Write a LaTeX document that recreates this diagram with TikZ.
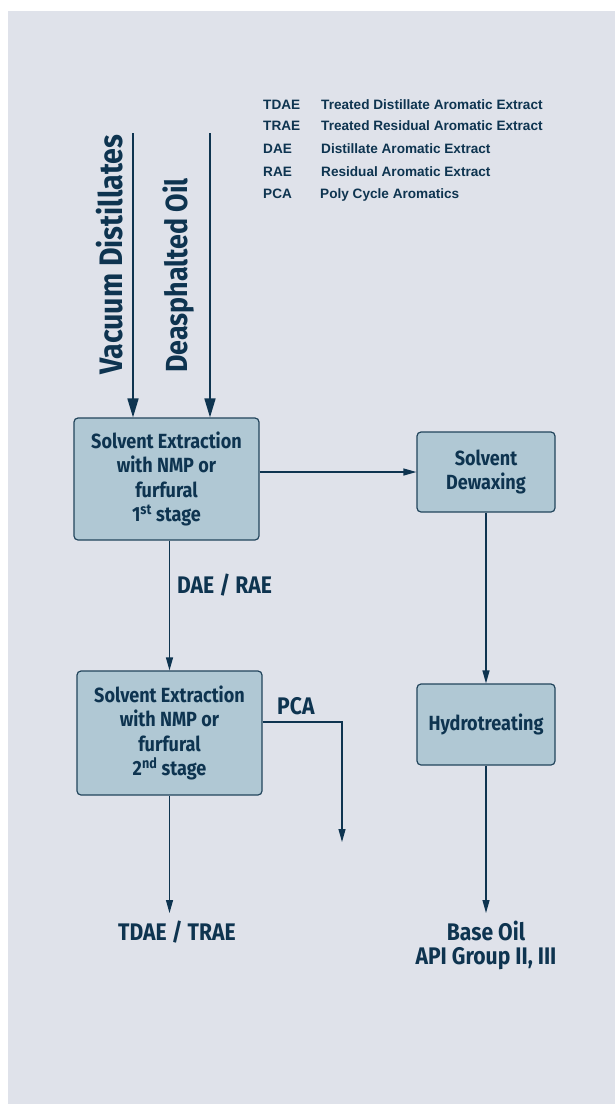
\documentclass[tikz,border=0pt]{standalone}
\usepackage{fontspec}
\setmainfont{Fira Sans}[FakeStretch=0.88]
\newfontfamily\legendfont{Liberation Sans}
\usetikzlibrary{arrows.meta}

\definecolor{panelbg}{HTML}{DFE2EA}
\definecolor{boxfill}{HTML}{B0C8D4}
\definecolor{boxline}{HTML}{22455C}
\definecolor{ink}{HTML}{0E3450}

\begin{document}
\begin{tikzpicture}[x=1pt,y=-1pt]
    \tikzset{
        procbox/.style={
            draw=boxline, fill=boxfill, line width=1.2pt,
            rounded corners=4pt, inner sep=0pt,
            minimum width=185pt, minimum height=122pt,
            align=center, text=ink,
            font=\fontsize{20.5}{24.5}\selectfont\bfseries,
        },
        feedlabel/.style={
            rotate=90, anchor=base west, inner sep=0pt, text=ink,
            font=\fontsize{32.5}{34}\selectfont\bfseries,
        },
        flowlabel/.style={
            inner sep=0pt, text=ink, align=center,
            font=\fontsize{24}{24}\selectfont\bfseries,
        },
        legendtext/.style={
            anchor=base west, inner sep=0pt, text=ink,
            font=\legendfont\bfseries\fontsize{13.6}{16}\selectfont,
        },
        feedarrow/.style={
            draw=ink, line width=1.7pt,
            -{Triangle[length=19pt,width=11pt]},
        },
        flowarrow/.style={
            draw=ink, line width=1.2pt,
            -{Triangle[length=13pt,width=7pt]},
        },
    }

    \useasboundingbox (0,0) rectangle (615,1104);
    \fill[panelbg] (8,11) rectangle (615,1104);

    % Legend
    \node[legendtext] (abtdae) at (263,109) {TDAE};
    \node[legendtext] (lgtdae) at (321,109) {Treated Distillate Aromatic Extract};
    \node[legendtext] (abtrae) at (263,130) {TRAE};
    \node[legendtext] (lgtrae) at (321,130) {Treated Residual Aromatic Extract};
    \node[legendtext] (abdae) at (263,153) {DAE};
    \node[legendtext] (lgdae) at (321,153) {Distillate Aromatic Extract};
    \node[legendtext] (abrae) at (263,176) {RAE};
    \node[legendtext] (lgrae) at (321,176) {Residual Aromatic Extract};
    \node[legendtext] (abpca) at (263,198) {PCA};
    \node[legendtext] (lgpca) at (320,198) {Poly Cycle Aromatics};

    % Feeds
    \node[feedlabel] (vacuum) at (122,375) {Vacuum Distillates};
    \node[feedlabel, font=\fontsize{30.5}{32}\selectfont\bfseries] (deasph) at (187,373) {Deasphalted Oil};
    \coordinate (vacuumtop) at (133,133);
    \coordinate (deasphtop) at (210,133);

    % Process units
    \node[procbox] (stage1) at (166.5,479) {Solvent Extraction\\with NMP or\\furfural\\1\textsuperscript{st} stage};
    \node[procbox, minimum height=124pt] (stage2) at (169.5,733) {Solvent Extraction\\with NMP or\\furfural\\2\textsuperscript{nd} stage};
    \node[procbox, minimum width=138pt, minimum height=80pt] (dewax) at (486,472) {Solvent\\Dewaxing};
    \node[procbox, minimum width=138pt, minimum height=81pt] (hydro) at (486,724.5) {Hydrotreating};

    % Products
    \coordinate (tdaeend) at (169.5,913);
    \node[flowlabel] (tdae) at (177,932) {TDAE / TRAE};
    \coordinate (baseend) at (486,913);
    \node[flowlabel] (baseoil) at (486,945) {Base Oil\\API Group II, III};
    \coordinate (pcaturn) at (342,722);
    \coordinate (pcaend) at (342,842);
    \node[flowlabel, anchor=base west] (pca) at (277,714) {PCA};
    \node[flowlabel, anchor=base west] (daerae) at (177,593) {DAE / RAE};

    % Arrows
    \draw[feedarrow] (vacuumtop) -- (vacuumtop |- stage1.north);
    \draw[feedarrow] (deasphtop) -- (deasphtop |- stage1.north);
    \draw[flowarrow] (stage1.east |- dewax.west) -- (dewax.west);
    \draw[flowarrow] (stage2.north |- stage1.south) -- (stage2.north);
    \draw[flowarrow] (stage2.south) -- (tdaeend);
    \draw[flowarrow] (stage2.east |- pcaturn) -- (pcaturn) -- (pcaend);
    \draw[flowarrow] (hydro.north |- dewax.south) -- (hydro.north);
    \draw[flowarrow] (hydro.south) -- (baseend);
\end{tikzpicture}
\end{document}
